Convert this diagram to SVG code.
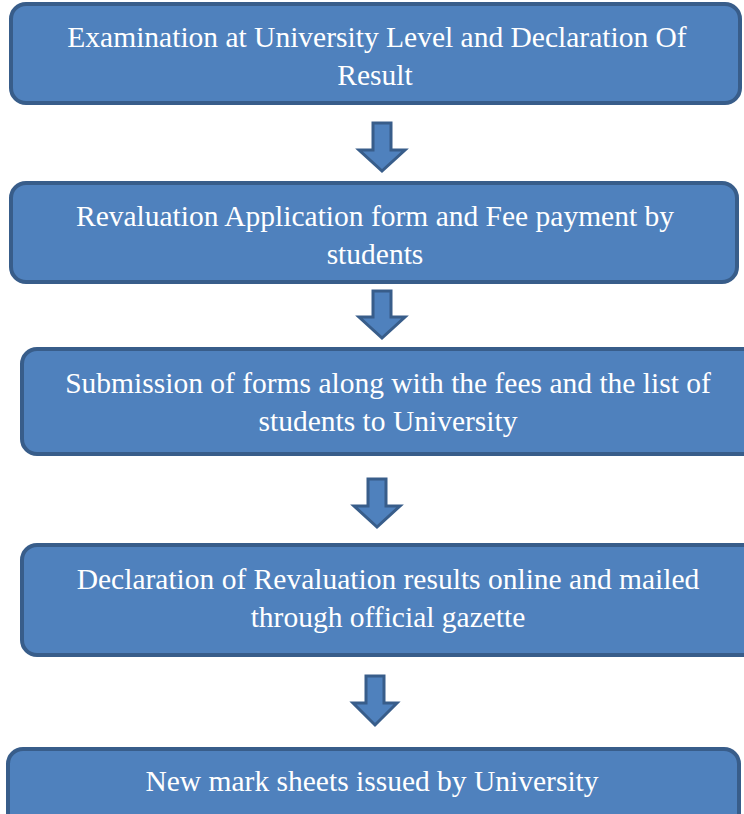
<svg xmlns="http://www.w3.org/2000/svg" width="744" height="814" viewBox="0 0 744 814">
<style>
.box{fill:#4F81BD;stroke:#385D8A;stroke-width:4}
.arr{fill:#4F81BD;stroke:#385D8A;stroke-width:3;stroke-linejoin:miter}
text{font-family:"Liberation Serif","Times New Roman",serif;font-size:29.5px;fill:#ffffff;text-anchor:middle}
</style>
<rect width="744" height="814" fill="#ffffff"/>
<g id="connectors">
<path class="arr" d="M373,123 H391 V150 H405 L382,171 L359,150 H373 Z"/>
<path class="arr" d="M373,291 H391 V317 H405 L382,338 L359,317 H373 Z"/>
<path class="arr" d="M368,479 H386 V506 H400 L377,527 L354,506 H368 Z"/>
<path class="arr" d="M366,676 H384 V703 H397 L375,725 L353,703 H366 Z"/>
</g>
<g id="node1">
<rect class="box" x="11" y="4" width="729" height="99" rx="15"/>
<text x="377" y="47">Examination at University Level and Declaration Of</text>
<text x="375" y="85">Result</text>
</g>
<g id="node2">
<rect class="box" x="11" y="183" width="726" height="99" rx="15"/>
<text x="375" y="226">Revaluation Application form and Fee payment by</text>
<text x="375" y="264">students</text>
</g>
<g id="node3">
<rect class="box" x="22" y="349" width="740" height="105" rx="15"/>
<text x="388" y="393">Submission of forms along with the fees and the list of</text>
<text x="388" y="431">students to University</text>
</g>
<g id="node4">
<rect class="box" x="22" y="545" width="740" height="110" rx="15"/>
<text x="388" y="589">Declaration of Revaluation results online and mailed</text>
<text x="388" y="627">through official gazette</text>
</g>
<g id="node5">
<rect class="box" x="8" y="749" width="731" height="90" rx="15"/>
<text x="372" y="791">New mark sheets issued by University</text>
</g>
</svg>
